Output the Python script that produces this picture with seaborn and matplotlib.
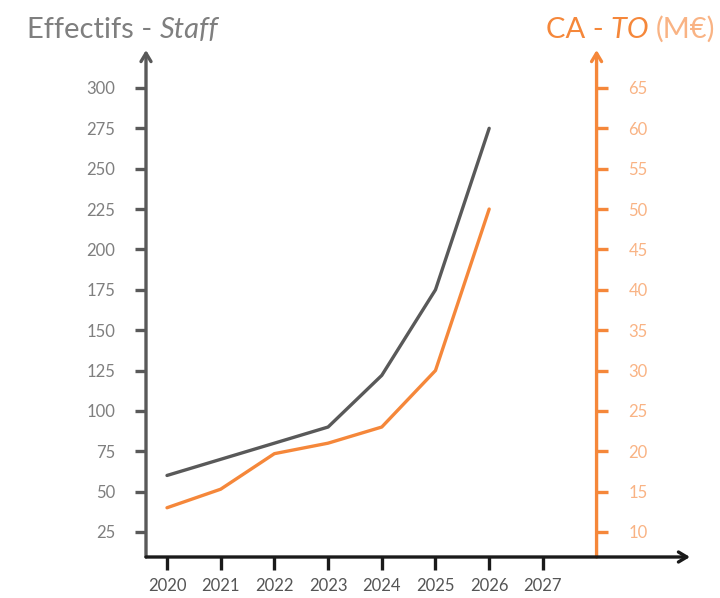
import matplotlib.pyplot as plt
import matplotlib.transforms as mtransforms
import pandas as pd
import seaborn as sns

# Values
years = [2020, 2021, 2022, 2023, 2024, 2025, 2026]
staff = [60, 70, 80, 90, 122, 175, 275]
turnover = [13, 15.3, 19.7, 21, 23, 30, 50]

year_ticks = [2020, 2021, 2022, 2023, 2024, 2025, 2026, 2027]
staff_ticks = [25, 50, 75, 100, 125, 150, 175, 200, 225, 250, 275, 300]
turnover_ticks = [10, 15, 20, 25, 30, 35, 40, 45, 50, 55, 60, 65]

GREY = "#595959"
GREY_TXT = "#7f7f7f"
ORANGE = "#f5873a"
ORANGE_TXT = "#f9b384"
BLACK = "#1a1a1a"

sns.set_theme(style="white")
plt.rcParams["font.family"] = ["Lato", "DejaVu Sans"]

df = pd.DataFrame({"year": years, "staff": staff, "turnover": turnover})

fig = plt.figure(figsize=(7.2, 5.98), dpi=100)
ax = fig.add_axes([146 / 720, 1 - 557 / 598, (690 - 146) / 720, (557 - 50) / 598])
ax2 = ax.twinx()

sns.lineplot(data=df, x="year", y="staff", ax=ax, color=GREY, linewidth=2.4)
sns.lineplot(data=df, x="year", y="turnover", ax=ax2, color=ORANGE, linewidth=2.4)

ax.set_xlim(2019.609, 2029.74)
ax.set_ylim(9.5, 323.5)
ax2.set_ylim(6.9, 69.7)

for a in (ax, ax2):
    for s in a.spines.values():
        s.set_visible(False)
    a.set_xlabel("")
    a.set_ylabel("")
    a.patch.set_visible(False)

ax.set_xticks(year_ticks)
ax.set_xticklabels([str(y) for y in year_ticks])
ax.set_yticks(staff_ticks)
ax2.set_yticks(turnover_ticks)

ax.tick_params(axis="x", bottom=True, length=9, width=2.4, color=BLACK,
               labelcolor="#555555", labelsize=12, pad=6)
ax.tick_params(axis="y", left=True, length=8, width=2.4, color=GREY,
               labelcolor=GREY_TXT, labelsize=12, pad=14)
ax2.tick_params(axis="y", right=True, length=8, width=2.4, color=ORANGE,
                labelcolor=ORANGE_TXT, labelsize=12)
ax2.tick_params(axis="x", bottom=False, labelbottom=False)

# move the right-hand ticks onto the orange axis at 2028
right_x = (2028 - 2019.609) / (2029.74 - 2019.609)
for t in ax2.yaxis.get_major_ticks():
    t.tick2line.set_xdata([right_x])
    t.label2.set_transform(ax2.get_yaxis_transform()
                           + mtransforms.ScaledTranslation(0.32, 0, fig.dpi_scale_trans))
    t.label2.set_x(right_x)

# axis lines with arrow heads
arrow = dict(arrowstyle="->,head_length=0.5,head_width=0.3", linewidth=2.4, shrinkA=0, shrinkB=0)
ax.annotate("", xy=(0, 1), xytext=(0, 0), xycoords="axes fraction",
            arrowprops=dict(arrow, color=GREY))
ax.annotate("", xy=(right_x, 1), xytext=(right_x, 0), xycoords="axes fraction",
            arrowprops=dict(arrow, color=ORANGE))
ax.annotate("", xy=(1, 0), xytext=(0, 0), xycoords="axes fraction",
            arrowprops=dict(arrow, color=BLACK))


def chain(x, y, parts):
    """Write title pieces one after another, each with its own colour/style."""
    prev = None
    for txt, col, sty in parts:
        if prev is None:
            prev = fig.text(x, y, txt, color=col, fontsize=21, style=sty, va="baseline", ha="left")
        else:
            prev = ax.annotate(txt, xy=(1, 0), xycoords=prev, color=col, fontsize=21,
                               style=sty, va="bottom", ha="left", annotation_clip=False)


chain(27 / 720, 1 - 38 / 598, [("Effectifs - ", GREY_TXT, "normal"), ("Staff", GREY_TXT, "italic")])
chain(546 / 720, 1 - 38 / 598, [("CA - ", ORANGE, "normal"), ("TO ", ORANGE, "italic"),
                                ("(M€)", ORANGE_TXT, "normal")])

fig.savefig("out.png", dpi=100)
